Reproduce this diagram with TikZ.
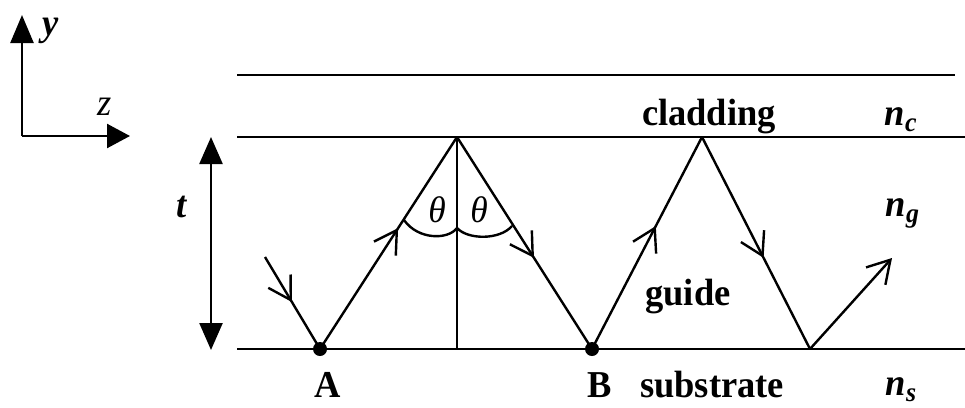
\documentclass[tikz,border=0pt]{standalone}
\usepackage{fontspec}
\setmainfont{Liberation Serif}[FakeStretch=0.96]
\usetikzlibrary{arrows.meta,decorations.markings}
\tikzset{
  ln/.style={line width=2.4pt},
  ray/.style={line width=2.4pt},
  midarrow/.style={postaction={decorate},decoration={markings,
     mark=at position #1 with {\arrow{Straight Barb[length=22pt,width=26pt,line width=2.4pt]}}}},
  endarrow/.style={-{Straight Barb[length=22pt,width=26pt,line width=2.4pt]}},
  bigtri/.tip={Triangle[length=27pt,width=23pt]},
  lbl/.style={font=\fontsize{38}{42}\selectfont\bfseries, inner sep=0pt, anchor=base},
  ilbl/.style={font=\fontsize{38}{42}\selectfont\bfseries\itshape, inner sep=0pt, anchor=base west},
  glbl/.style={font=\fontsize{37}{40}\selectfont\itshape, inner sep=0pt, anchor=base},
  dot/.style={circle,fill=black,inner sep=0pt,minimum size=14pt},
}
\newcommand{\idx}[2]{#1\kern0.5pt\raisebox{-6pt}{\fontsize{27}{29}\selectfont #2}}
\begin{document}
\begin{tikzpicture}[x=1pt,y=-1pt]
\useasboundingbox (0,0) rectangle (965,407);
% layer boundaries
\coordinate (tl) at (237,75);   \coordinate (tr) at (955,75);
\coordinate (ml) at (237,137);  \coordinate (mr) at (965,137);
\coordinate (bl) at (237,349);  \coordinate (br) at (965,349);
\draw[ln] (tl) -- (tr);
\draw[ln] (ml) -- (mr);
\draw[ln] (bl) -- (br);
% ray points
\coordinate (S) at (265,257);
\coordinate (A) at (320,349);
\coordinate (P1) at (457,137);
\coordinate (F1) at (457,349);
\coordinate (B) at (592,349);
\coordinate (P2) at (702,137);
\coordinate (C) at (810,349);
\coordinate (E) at (892,258);
\draw[ray,midarrow=0.49] (S) -- (A);
\draw[ray,midarrow=0.57] (A) -- (P1);
\draw[ray,midarrow=0.57] (P1) -- (B);
\draw[ray,midarrow=0.58] (B) -- (P2);
\draw[ray,midarrow=0.57] (P2) -- (C);
\draw[ray,endarrow] (C) -- (E);
% normal
\draw[ln] (P1) -- (F1);
% angle arcs
\coordinate (a1) at (404,220);
\coordinate (a2) at (457,228);
\coordinate (a3) at (512,226);
\draw[ln] (a1) .. controls (418,240) and (448,240) .. (a2);
\draw[ln] (a2) .. controls (468,240) and (500,240) .. (a3);
\node[glbl] (th1) at (437,222) {θ};
\node[glbl] (th2) at (479,222) {θ};
% points
\node[dot] (dA) at (A) {};
\node[dot] (dB) at (B) {};
% thickness arrow
\coordinate (t1) at (211,137);
\coordinate (t2) at (211,350);
\draw[ln,bigtri-bigtri] (t2) -- (t1);
\node[ilbl] (tlab) at (176,217) {t};
% axes
\coordinate (O) at (22,136);
\coordinate (Y) at (22,15);
\coordinate (Z) at (130,136);
\draw[ln,-{Triangle[length=28pt,width=23pt]}] (O) -- (Y);
\draw[ln,-{Triangle[length=23pt,width=24pt]}] (O) -- (Z);
\node[ilbl] (ylab) at (42,35) {y};
\node[font=\fontsize{38}{42}\selectfont\itshape,inner sep=0pt,anchor=base west] (zlab) at (97,115) {z};
% labels
\node[lbl] (clad) at (709,125) {cladding};
\node[lbl] (guide) at (688,305) {guide};
\node[lbl] (subs) at (712,397) {substrate};
\node[lbl] (Alab) at (328,397) {A};
\node[lbl] (Blab) at (600,397) {B};
\node[ilbl] (nc) at (884,125) {\idx{n}{c}};
\node[ilbl] (ng) at (885,216) {\idx{n}{g}};
\node[ilbl] (ns) at (885,395) {\idx{n}{s}};
\end{tikzpicture}
\end{document}
